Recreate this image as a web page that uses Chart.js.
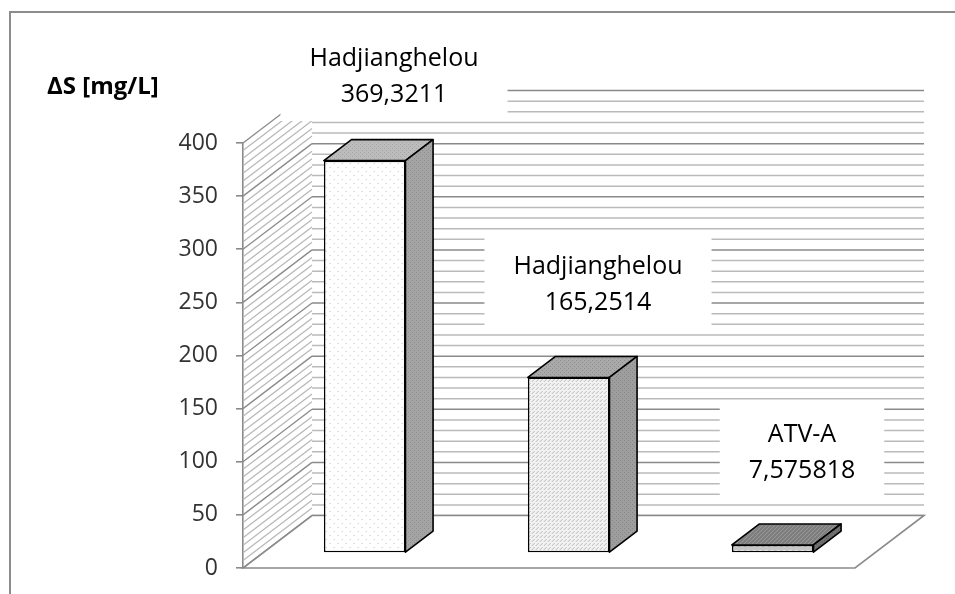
<!DOCTYPE html>
<html>
<head>
<meta charset="utf-8">
<script src="https://cdn.jsdelivr.net/npm/chart.js@4.4.0/dist/chart.umd.min.js"></script>
<style>
  html, body { margin: 0; padding: 0; background: #fff; }
  #wrap { width: 955px; height: 594px; position: relative; }
</style>
</head>
<body>
<div id="wrap"><canvas id="chart" width="955" height="594"></canvas></div>
<script>
// data
const categories = ['Hadjianghelou', 'Hadjianghelou', 'ATV-A'];
const deltaS = [369.3211, 165.2514, 7.575818];
const yMin = 0;
const yMax = 400;
const yStep = 50;
const yTitle = 'ΔS [mg/L]';

// 3D look: depth vector of the floor, and where the bars sit in it
const DX = 69, DY = -52.5;
const BAR_FRONT = 0.285, BAR_DEPTH = 0.4;
const SIDE_HATCH = 7; // hatch lines per gridline step on the side wall
const LABEL_FONT = '25px "Open Sans"';

function makePattern(size, bg, draw) {
  const c = document.createElement('canvas');
  c.width = c.height = size;
  const g = c.getContext('2d');
  g.fillStyle = bg;
  g.fillRect(0, 0, size, size);
  draw(g);
  return g.createPattern(c, 'repeat');
}
function dots(color, pts) {
  return g => { g.fillStyle = color; pts.forEach(p => g.fillRect(p[0], p[1], 1, 1)); };
}

const frontFills = [
  makePattern(8, '#ffffff', dots('#c2c2c2', [[2, 2], [6, 6]])),
  makePattern(4, '#f4f4f4', dots('#b4b4b4', [[0, 0], [2, 2], [1, 3]])),
  makePattern(6, '#c6c6c6', g => { g.fillStyle = '#f2f2f2'; g.fillRect(1, 1, 3, 3); })
];
const topFills = [
  makePattern(4, '#bcbcbc', dots('#a4a4a4', [[0, 0], [2, 2]])),
  makePattern(4, '#a9a9a9', dots('#8c8c8c', [[0, 0], [2, 2]])),
  makePattern(4, '#7e7e7e', g => {
    g.strokeStyle = '#989898'; g.lineWidth = 1;
    g.beginPath(); g.moveTo(0, 4); g.lineTo(4, 0); g.stroke();
  })
];
const sideFills = [
  makePattern(4, '#a4a4a4', dots('#8e8e8e', [[0, 0], [2, 2]])),
  makePattern(4, '#9e9e9e', dots('#868686', [[0, 0], [2, 2]])),
  makePattern(4, '#6f6f6f', dots('#5c5c5c', [[0, 0], [2, 2]]))
];

const walls3d = {
  id: 'walls3d',
  beforeDatasetsDraw(chart) {
    const { ctx, chartArea: a, scales: { y } } = chart;
    ctx.save();
    ctx.lineWidth = 1.5;

    // back wall: horizontal hatch every 10, darker gridlines every 50
    for (let v = yMin; v <= yMax; v += 10) {
      const py = y.getPixelForValue(v) + DY;
      ctx.strokeStyle = v % yStep === 0 ? '#8a8a8a' : '#bababa';
      ctx.beginPath();
      ctx.moveTo(a.left + DX, py);
      ctx.lineTo(a.right + DX, py);
      ctx.stroke();
    }

    // side wall: lines running back along the depth
    ctx.lineWidth = 1.3;
    const n = (yMax - yMin) / yStep * SIDE_HATCH;
    for (let k = 0; k <= n; k++) {
      const py = y.getPixelForValue(yMin + k * yStep / SIDE_HATCH);
      ctx.strokeStyle = k % SIDE_HATCH === 0 ? '#8a8a8a' : '#b8b8b8';
      ctx.beginPath();
      ctx.moveTo(a.left, py);
      ctx.lineTo(a.left + DX, py + DY);
      ctx.stroke();
    }

    // floor
    ctx.fillStyle = '#ffffff';
    ctx.strokeStyle = '#8a8a8a';
    ctx.lineWidth = 1.6;
    ctx.beginPath();
    ctx.moveTo(a.left, a.bottom);
    ctx.lineTo(a.right, a.bottom);
    ctx.lineTo(a.right + DX, a.bottom + DY);
    ctx.lineTo(a.left + DX, a.bottom + DY);
    ctx.closePath();
    ctx.fill();
    ctx.stroke();
    ctx.restore();

    // bars' front faces are drawn by Chart.js, pushed back into the floor
    ctx.save();
    ctx.translate(BAR_FRONT * DX, BAR_FRONT * DY);
  },
  afterDatasetsDraw(chart) {
    const { ctx } = chart;
    ctx.restore();
    const meta = chart.getDatasetMeta(0);
    const ox = BAR_FRONT * DX, oy = BAR_FRONT * DY;
    const bx = BAR_DEPTH * DX, by = BAR_DEPTH * DY;
    ctx.save();
    ctx.lineWidth = 1.6;
    ctx.lineJoin = 'round';
    ctx.strokeStyle = '#000000';
    meta.data.forEach((bar, i) => {
      const p = bar.getProps(['x', 'y', 'base', 'width'], true);
      const L = p.x - p.width / 2 + ox, R = p.x + p.width / 2 + ox;
      const T = p.y + oy, B = p.base + oy;
      // top face
      ctx.fillStyle = topFills[i];
      ctx.beginPath();
      ctx.moveTo(L, T); ctx.lineTo(R, T); ctx.lineTo(R + bx, T + by); ctx.lineTo(L + bx, T + by);
      ctx.closePath(); ctx.fill(); ctx.stroke();
      // side face
      ctx.fillStyle = sideFills[i];
      ctx.beginPath();
      ctx.moveTo(R, T); ctx.lineTo(R + bx, T + by); ctx.lineTo(R + bx, B + by); ctx.lineTo(R, B);
      ctx.closePath(); ctx.fill(); ctx.stroke();
    });
    ctx.restore();
  },
  afterDraw(chart) {
    const { ctx } = chart;
    const meta = chart.getDatasetMeta(0);
    ctx.save();
    // outer frame
    ctx.strokeStyle = '#8c8c8c';
    ctx.lineWidth = 2;
    ctx.strokeRect(10, 12, 1000, 1000);

    // axis title
    ctx.fillStyle = '#000000';
    ctx.font = 'bold 24px "Open Sans"';
    ctx.textAlign = 'left';
    ctx.textBaseline = 'alphabetic';
    ctx.fillText(yTitle, 47, 94);

    // data labels: category + value in a white box above each bar
    ctx.font = LABEL_FONT;
    ctx.textAlign = 'center';
    meta.data.forEach((bar, i) => {
      const p = bar.getProps(['x', 'y'], true);
      const lines = [categories[i], String(deltaS[i]).replace('.', ',')];
      const backTop = p.y + (BAR_FRONT + BAR_DEPTH) * DY;
      let base2 = backTop - 46;
      let base1 = base2 - 36;
      if (base1 - 38 < 28) { base2 += 28 - (base1 - 38); base1 = base2 - 36; }
      const cx = p.x + 49;
      const w = Math.max(...lines.map(t => ctx.measureText(t).width)) + 58;
      ctx.fillStyle = '#ffffff';
      ctx.fillRect(cx - w / 2, base1 - 38, w, base2 + 19 - (base1 - 38));
      ctx.fillStyle = '#000000';
      ctx.fillText(lines[0], cx, base1);
      ctx.fillText(lines[1], cx, base2);
    });
    ctx.restore();
  }
};

new Chart(document.getElementById('chart'), {
  type: 'bar',
  data: {
    labels: categories,
    datasets: [{
      data: deltaS,
      backgroundColor: frontFills,
      borderColor: '#000000',
      borderWidth: 1.6,
      borderSkipped: false,
      categoryPercentage: 1,
      barPercentage: 0.4,
      clip: false
    }]
  },
  options: {
    responsive: false,
    animation: false,
    events: [],
    layout: { padding: { left: 0, top: 143, right: 100, bottom: 26 } },
    plugins: { legend: { display: false }, tooltip: { enabled: false } },
    scales: {
      x: { display: false },
      y: {
        min: yMin,
        max: yMax,
        ticks: {
          stepSize: yStep,
          color: '#333333',
          padding: 18,
          font: { family: 'Open Sans', size: 23 }
        },
        grid: { drawOnChartArea: false, color: '#8a8a8a', lineWidth: 1.6, tickLength: 7 },
        border: { color: '#8a8a8a', width: 1.6 },
        afterFit(scale) {
          scale.width = 243;
          scale.paddingTop = 0;
          scale.paddingBottom = 0;
        }
      }
    }
  },
  plugins: [walls3d]
});
</script>
</body>
</html>
